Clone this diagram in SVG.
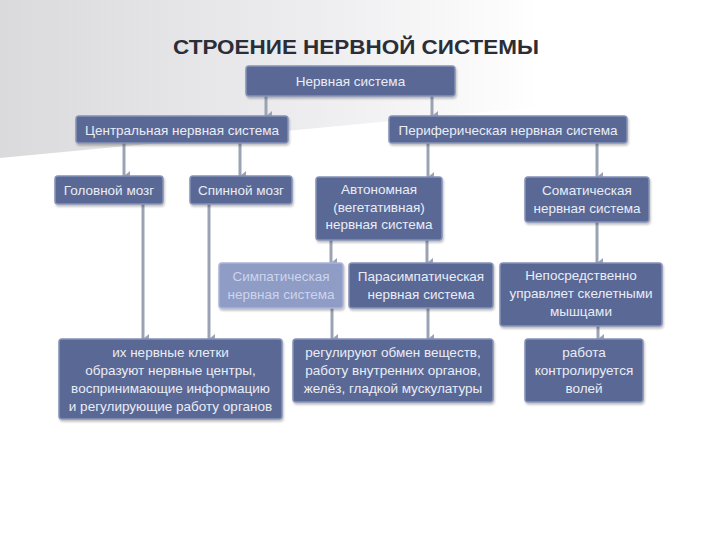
<svg xmlns="http://www.w3.org/2000/svg" width="720" height="540" viewBox="0 0 720 540">
<defs>
<linearGradient id="bg" x1="0" y1="0" x2="1" y2="0">
<stop offset="0" stop-color="#dadadd"/>
<stop offset="0.45" stop-color="#eeeef0"/>
<stop offset="0.75" stop-color="#ffffff"/>
</linearGradient>
<filter id="sh" x="-10%" y="-10%" width="120%" height="130%">
<feDropShadow dx="1" dy="2" stdDeviation="1.2" flood-color="#000" flood-opacity="0.25"/>
</filter>
<marker id="ar" markerWidth="10" markerHeight="8" refX="5" refY="7" orient="auto" markerUnits="userSpaceOnUse" viewBox="0 0 10 8">
<path d="M0,1 L10,1 L5,7 Z" fill="#9aa2b4"/>
</marker>
</defs>
<style>
.box{fill:#5a6895;stroke:#8591b6;stroke-width:1.5;filter:url(#sh)}
.lt{fill:#8e9cc6;stroke:#a9b4d6;stroke-width:1.5;filter:url(#sh)}
.t{font-family:"Liberation Sans",Arial,sans-serif;font-size:13.5px;fill:#e9edf7;text-anchor:middle}
.tl{fill:#cdd5ec}
.c{stroke:#9aa2b4;stroke-width:3;fill:none}
.title{font-family:"Liberation Sans",Arial,sans-serif;font-size:21px;font-weight:bold;fill:#2b2e38;text-anchor:middle}
</style>
<rect width="720" height="540" fill="#ffffff"/>
<polygon points="0,0 720,0 720,90 0,158" fill="url(#bg)"/>
<text class="title" x="356" y="54" textLength="366" lengthAdjust="spacingAndGlyphs">СТРОЕНИЕ НЕРВНОЙ СИСТЕМЫ</text>
<g id="connectors">
<line class="c" x1="266" y1="96" x2="266" y2="116" marker-end="url(#ar)"/>
<line class="c" x1="432" y1="96" x2="432" y2="116" marker-end="url(#ar)"/>
<line class="c" x1="124" y1="143" x2="124" y2="176" marker-end="url(#ar)"/>
<line class="c" x1="240" y1="143" x2="240" y2="176" marker-end="url(#ar)"/>
<line class="c" x1="428" y1="143" x2="428" y2="177" marker-end="url(#ar)"/>
<line class="c" x1="597" y1="143" x2="597" y2="177" marker-end="url(#ar)"/>
<line class="c" x1="331" y1="240" x2="331" y2="263" marker-end="url(#ar)"/>
<line class="c" x1="427" y1="240" x2="427" y2="263" marker-end="url(#ar)"/>
<line class="c" x1="597" y1="222" x2="597" y2="263" marker-end="url(#ar)"/>
<line class="c" x1="143" y1="204" x2="143" y2="339" marker-end="url(#ar)"/>
<line class="c" x1="209" y1="204" x2="209" y2="339" marker-end="url(#ar)"/>
<line class="c" x1="332" y1="308" x2="332" y2="339" marker-end="url(#ar)"/>
<line class="c" x1="428" y1="308" x2="428" y2="339" marker-end="url(#ar)"/>
<line class="c" x1="598" y1="326" x2="598" y2="339" marker-end="url(#ar)"/>
</g>
<g id="n-nervous">
<rect class="box" x="246" y="66" width="209" height="30" rx="3"/>
<text class="t" x="350.5" y="85.5">Нервная система</text>
</g>
<g id="n-cns">
<rect class="box" x="76" y="116" width="212" height="27" rx="3"/>
<text class="t" x="182" y="134.5">Центральная нервная система</text>
</g>
<g id="n-pns">
<rect class="box" x="389" y="116" width="238" height="27" rx="3"/>
<text class="t" x="508" y="134.5">Периферическая нервная система</text>
</g>
<g id="n-brain">
<rect class="box" x="55" y="176" width="108" height="28" rx="3"/>
<text class="t" x="109" y="194.5">Головной мозг</text>
</g>
<g id="n-spinal">
<rect class="box" x="190" y="176" width="102" height="28" rx="3"/>
<text class="t" x="241" y="194.5">Спинной мозг</text>
</g>
<g id="n-autonomic">
<rect class="box" x="316" y="177" width="126" height="63" rx="3"/>
<text class="t" x="379" y="194">Автономная</text>
<text class="t" x="379" y="211.5">(вегетативная)</text>
<text class="t" x="379" y="229">нервная система</text>
</g>
<g id="n-somatic">
<rect class="box" x="525" y="177" width="124" height="45" rx="3"/>
<text class="t" x="587" y="195">Соматическая</text>
<text class="t" x="587" y="212.5">нервная система</text>
</g>
<g id="n-sympathetic">
<rect class="lt" x="219" y="263" width="124" height="45" rx="3"/>
<text class="t tl" x="281" y="281">Симпатическая</text>
<text class="t tl" x="281" y="298.5">нервная система</text>
</g>
<g id="n-parasympathetic">
<rect class="box" x="349" y="263" width="144" height="45" rx="3"/>
<text class="t" x="421" y="281">Парасимпатическая</text>
<text class="t" x="421" y="298.5">нервная система</text>
</g>
<g id="n-direct">
<rect class="box" x="500" y="263" width="162" height="63" rx="3"/>
<text class="t" x="581" y="280">Непосредственно</text>
<text class="t" x="581" y="298">управляет скелетными</text>
<text class="t" x="581" y="316">мышцами</text>
</g>
<g id="n-centers">
<rect class="box" x="59" y="339" width="223" height="80" rx="3"/>
<text class="t" x="170.5" y="357">их нервные клетки</text>
<text class="t" x="170.5" y="375">образуют нервные центры,</text>
<text class="t" x="170.5" y="393">воспринимающие информацию</text>
<text class="t" x="170.5" y="411">и регулирующие работу органов</text>
</g>
<g id="n-regulate">
<rect class="box" x="293" y="339" width="200" height="63" rx="3"/>
<text class="t" x="393" y="357">регулируют обмен веществ,</text>
<text class="t" x="393" y="375">работу внутренних органов,</text>
<text class="t" x="393" y="393">желёз, гладкой мускулатуры</text>
</g>
<g id="n-will">
<rect class="box" x="525" y="339" width="118" height="63" rx="3"/>
<text class="t" x="584" y="357">работа</text>
<text class="t" x="584" y="375">контролируется</text>
<text class="t" x="584" y="393">волей</text>
</g>
</svg>
